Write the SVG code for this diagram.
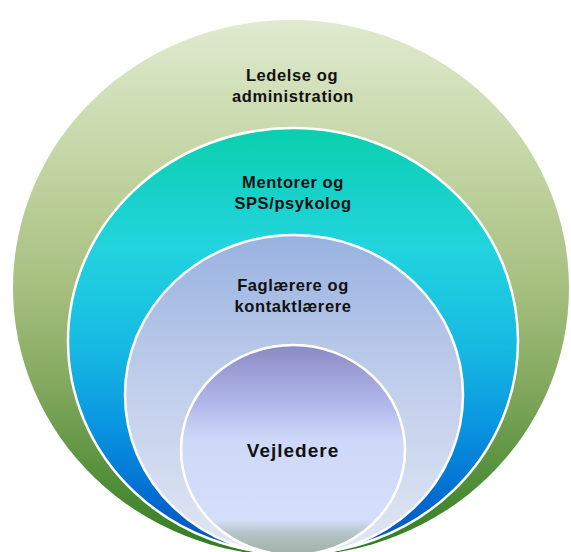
<svg xmlns="http://www.w3.org/2000/svg" width="571" height="552" viewBox="0 0 571 552">
<defs>
<linearGradient id="gOuter" x1="0" y1="0" x2="0" y2="1">
<stop offset="0" stop-color="#e0eacf"/>
<stop offset="0.25" stop-color="#c5d6a6"/>
<stop offset="0.5" stop-color="#a7bf7f"/>
<stop offset="0.7" stop-color="#7ea65a"/>
<stop offset="0.85" stop-color="#55903c"/>
<stop offset="1" stop-color="#2e7a1f"/>
</linearGradient>
<linearGradient id="gTeal" x1="0" y1="0" x2="0" y2="1">
<stop offset="0" stop-color="#0acfae"/>
<stop offset="0.28" stop-color="#22d4de"/>
<stop offset="0.52" stop-color="#16b9e2"/>
<stop offset="0.7" stop-color="#0a95e1"/>
<stop offset="0.9" stop-color="#0064cc"/>
<stop offset="1" stop-color="#0050b8"/>
</linearGradient>
<linearGradient id="gLight" x1="0" y1="0" x2="0" y2="1">
<stop offset="0" stop-color="#98b2e0"/>
<stop offset="0.5" stop-color="#c3d0ec"/>
<stop offset="0.9" stop-color="#dbe2f2"/>
<stop offset="1" stop-color="#e4e8f4"/>
</linearGradient>
<linearGradient id="gInner" x1="0" y1="0" x2="0" y2="1">
<stop offset="0" stop-color="#8a8ac4"/>
<stop offset="0.27" stop-color="#b0b5e8"/>
<stop offset="0.45" stop-color="#cfd8f8"/>
<stop offset="0.83" stop-color="#d4dffb"/>
<stop offset="0.9" stop-color="#b3c3c6"/>
<stop offset="1" stop-color="#9fb0a4"/>
</linearGradient>
</defs>
<style>
.ring{stroke:#ffffff;stroke-width:2.5}
.lbl{font-family:"Liberation Sans",Arial,sans-serif;font-weight:bold;font-size:16.5px;letter-spacing:0.6px;fill:#111111;text-anchor:middle}
.big{font-size:19px;letter-spacing:1px}
</style>
<g id="node-ledelse">
<ellipse cx="291" cy="288" rx="278" ry="268" fill="url(#gOuter)"/>
<text class="lbl" x="292" y="81">Ledelse og</text>
<text class="lbl" x="293" y="102">administration</text>
</g>
<g id="node-mentorer">
<ellipse class="ring" cx="293" cy="341" rx="225" ry="213" fill="url(#gTeal)"/>
<text class="lbl" x="293" y="188">Mentorer og</text>
<text class="lbl" x="293" y="209">SPS/psykolog</text>
</g>
<g id="node-faglaerere">
<ellipse class="ring" cx="294" cy="395" rx="169" ry="160" fill="url(#gLight)"/>
<text class="lbl" x="293" y="291">Faglærere og</text>
<text class="lbl" x="293" y="312">kontaktlærere</text>
</g>
<g id="node-vejledere">
<ellipse class="ring" cx="293" cy="450" rx="112" ry="105" fill="url(#gInner)"/>
<text class="lbl big" x="293" y="457">Vejledere</text>
</g>
</svg>
